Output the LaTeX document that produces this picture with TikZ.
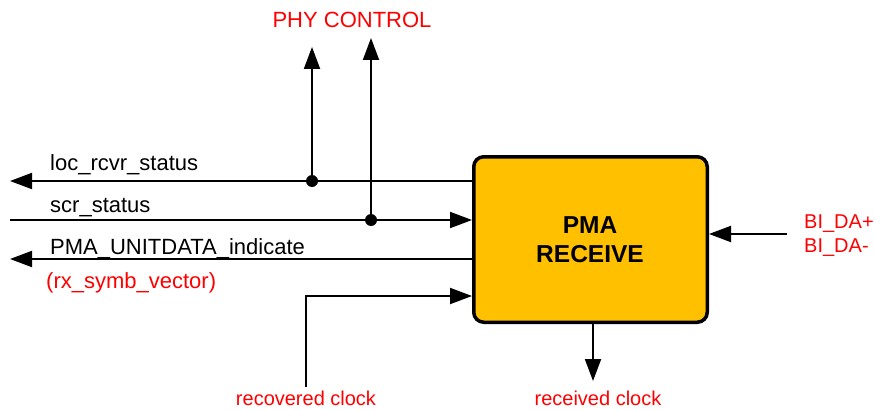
\documentclass[tikz,border=0pt]{standalone}
\usepackage{fontspec}
\setmainfont{Liberation Sans}
\usetikzlibrary{arrows.meta,calc}
\definecolor{boxfill}{HTML}{FFC000}
\definecolor{lblred}{HTML}{FF0000}
\begin{document}
\begin{tikzpicture}[x=1pt,y=-1pt,
  conn/.style={line width=2pt,-{Triangle[length=22pt,width=16pt]}},
  sig/.style={font=\fontsize{22}{26}\selectfont,anchor=base west,inner sep=0pt},
  redlbl/.style={text=lblred,font=\fontsize{20}{24}\selectfont,inner sep=0pt},
  jdot/.style={circle,fill=black,inner sep=0pt,minimum size=12pt}]
\useasboundingbox (0,0) rectangle (874,409);
\node[draw,line width=3.5pt,fill=boxfill,rounded corners=10pt,minimum width=233.5pt,minimum height=165.5pt,inner sep=0pt] (pma) at (590.5,239.5) {};
\node[font=\bfseries\fontsize{24.5}{29}\selectfont,anchor=base,inner sep=0pt] (pmaT1) at (590,233) {PMA};
\node[font=\bfseries\fontsize{24.5}{29}\selectfont,anchor=base,inner sep=0pt] (pmaT2) at (590,262) {RECEIVE};

\coordinate (locEnd) at (10,181);
\coordinate (scrStart) at (10,220);
\coordinate (pmaEnd) at (10,259);
\coordinate (recStart) at (306,387);
\coordinate (recIn) at (472,296);
\coordinate (phyA) at (312,47);
\coordinate (phyB) at (371,38);
\coordinate (biStart) at (787,234);
\coordinate (rxEnd) at (593,381);

\node[jdot] (j1) at (312,181) {};
\node[jdot] (j2) at (371,220) {};

\draw[conn] (pma.west |- locEnd) -- (locEnd);
\draw[conn] (scrStart) -- (pma.west |- scrStart);
\draw[conn] (pma.west |- pmaEnd) -- (pmaEnd);
\draw[conn] (recStart) |- (pma.west |- recIn);
\draw[conn] (j1.center) -- (phyA);
\draw[conn] (j2.center) -- (phyB);
\draw[conn] (biStart) -- (pma.east |- biStart);
\draw[conn] (pma.south -| rxEnd) -- (rxEnd);

\node[sig] (locL) at (50,170.7) {loc\_rcvr\_status};
\node[sig] (scrL) at (50,212.7) {scr\_status};
\node[sig] (pmaL) at (50,254) {PMA\_UNITDATA\_indicate};
\node[sig,text=lblred] (rxL) at (46,288) {(rx\_symb\_vector)};
\node[redlbl,font=\fontsize{22}{26}\selectfont,anchor=base] (phyL) at (352,28) {PHY CONTROL};
\node[redlbl,anchor=base west] (biP) at (804,228) {BI\_DA+};
\node[redlbl,anchor=base west] (biM) at (804,252) {BI\_DA-};
\node[redlbl,anchor=base] (recL) at (306,405) {recovered clock};
\node[redlbl,anchor=base] (rcvL) at (598,405) {received clock};
\end{tikzpicture}
\end{document}
